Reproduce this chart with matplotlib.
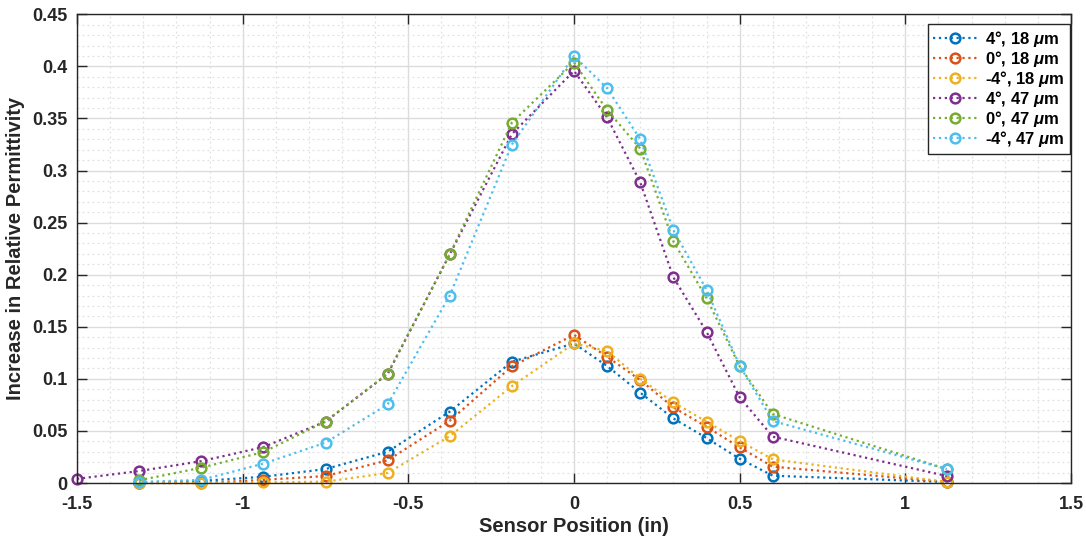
import numpy as np
import matplotlib
matplotlib.use("Agg")
import matplotlib.pyplot as plt
from matplotlib.ticker import MultipleLocator

plt.rcParams['font.family'] = ['Liberation Sans', 'DejaVu Sans']
plt.rcParams['mathtext.fontset'] = 'custom'
plt.rcParams['mathtext.it'] = 'Liberation Sans:italic:bold'

x_full = [-1.5, -1.3125, -1.125, -0.9375, -0.75, -0.5625, -0.375, -0.1875,
          0.0, 0.1, 0.2, 0.3, 0.4, 0.5, 0.6, 1.125]
x_part = x_full[1:]

blue_18 = [0.0, 0.002, 0.006, 0.0134, 0.030, 0.0685, 0.1164, 0.134,
           0.1123, 0.0867, 0.062, 0.0432, 0.0233, 0.007, 0.001]
orange_18 = [0.0, 0.0, 0.003, 0.0067, 0.0218, 0.0598, 0.112, 0.1423,
             0.1212, 0.0988, 0.0726, 0.054, 0.0342, 0.0157, 0.001]
yellow_18 = [0.0, 0.0, 0.0005, 0.0013, 0.0096, 0.045, 0.093, 0.134,
             0.1267, 0.1001, 0.0774, 0.0589, 0.0403, 0.0227, 0.001]
purple_47 = [0.004, 0.0115, 0.021, 0.0345, 0.059, 0.1046, 0.2195, 0.335, 0.3957,
             0.351, 0.2886, 0.1974, 0.1452, 0.0822, 0.0445, 0.0067]
green_47 = [0.0026, 0.0147, 0.0297, 0.059, 0.105, 0.2195, 0.346, 0.4037,
            0.358, 0.321, 0.232, 0.1775, 0.112, 0.0662, 0.0134]
cyan_47 = [0.001, 0.003, 0.0186, 0.0387, 0.0755, 0.180, 0.325, 0.410,
           0.379, 0.330, 0.2428, 0.1855, 0.1126, 0.0595, 0.0134]

series = [
    (x_part, blue_18, '#0072BD', r'4°, 18 $\mu$m'),
    (x_part, orange_18, '#D95319', r'0°, 18 $\mu$m'),
    (x_part, yellow_18, '#EDB120', r'-4°, 18 $\mu$m'),
    (x_full, purple_47, '#7E2F8E', r'4°, 47 $\mu$m'),
    (x_part, green_47, '#77AC30', r'0°, 47 $\mu$m'),
    (x_part, cyan_47, '#4DBEEE', r'-4°, 47 $\mu$m'),
]

fig = plt.figure(figsize=(10.86, 5.38), dpi=100)
ax = fig.add_axes([0.0709, 0.1022, 0.9153, 0.8712])

for xs, ys, c, lab in series:
    ax.plot(xs, ys, linestyle=':', color=c, linewidth=1.6, marker='o',
            markersize=7, markerfacecolor='none', markeredgewidth=1.8,
            label=lab, clip_on=False)

ax.set_xlim(-1.5, 1.5)
ax.set_ylim(0, 0.45)
ax.set_xticks([-1.5, -1, -0.5, 0, 0.5, 1, 1.5])
ax.set_xticklabels(['-1.5', '-1', '-0.5', '0', '0.5', '1', '1.5'])
ax.set_yticks(np.arange(0, 0.451, 0.05))
ax.set_yticklabels(['0', '0.05', '0.1', '0.15', '0.2', '0.25', '0.3', '0.35', '0.4', '0.45'])
ax.xaxis.set_minor_locator(MultipleLocator(0.1))
ax.yaxis.set_minor_locator(MultipleLocator(0.01))
ax.grid(which='major', color='#dcdcdc', linewidth=1.0, linestyle='-')
ax.grid(which='minor', color='#e0e0e0', linewidth=0.9, linestyle=(0, (1.5, 2.5)))
ax.set_axisbelow(True)
ax.tick_params(which='major', direction='in', length=7, width=1, top=True, right=True,
               labelsize=13, colors='#262626')
ax.tick_params(axis='x', which='major', pad=9)
ax.tick_params(axis='y', which='major', pad=7)
ax.tick_params(which='minor', length=0)
for lbl in ax.get_xticklabels() + ax.get_yticklabels():
    lbl.set_fontweight('bold')
for sp in ax.spines.values():
    sp.set_color('#262626')
    sp.set_linewidth(1.0)

ax.set_xlabel('Sensor Position (in)', fontsize=14.5, fontweight='bold', color='#262626', labelpad=3)
ax.set_ylabel('Increase in Relative Permittivity', fontsize=14.5, fontweight='bold', color='#262626', labelpad=5)

leg = ax.legend(loc='upper right', prop={'weight': 'bold', 'size': 12},
                fancybox=False, edgecolor='#262626', framealpha=1, handlelength=2.6,
                borderpad=0.3, labelspacing=0.0, handletextpad=0.5,
                borderaxespad=0.0, bbox_to_anchor=(0.9985, 0.979))
leg.get_frame().set_linewidth(1.0)

fig.savefig('out.png', dpi=100)
